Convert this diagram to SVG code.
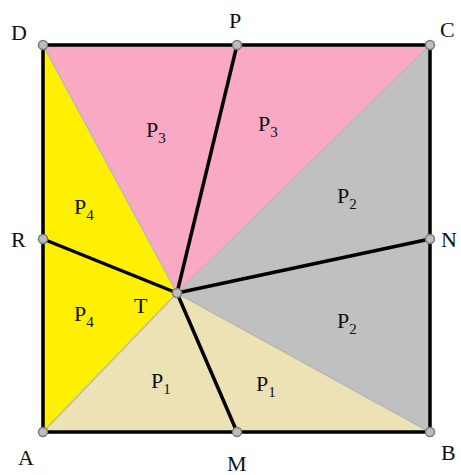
<svg xmlns="http://www.w3.org/2000/svg" width="461" height="475" viewBox="0 0 461 475">
<style>
.reg{stroke:none}
.div{stroke:#b8b8b8;stroke-width:1.5;fill:none}
.thick{stroke:#000;stroke-width:3.5;fill:none;stroke-linecap:round}
.pt{fill:#bdbdbd;stroke:#7a7a7a;stroke-width:1.5}
text{font-family:"Liberation Serif","DejaVu Serif",serif;font-size:22px;fill:#111}
.sub{font-size:15px}
</style>
<rect width="461" height="475" fill="#fff"/>
<g id="regions">
<polygon class="reg" fill="#f9a9c3" points="43,45 430,45 177,293"/>
<polygon class="reg" fill="#c0c0c0" points="430,45 430,432 177,293"/>
<polygon class="reg" fill="#ede2b4" points="43,432 430,432 177,293"/>
<polygon class="reg" fill="#ffef00" points="43,45 43,432 177,293"/>
</g>
<g id="connectors">
<line class="div" x1="43" y1="45" x2="177" y2="293"/>
<line class="div" x1="430" y1="45" x2="177" y2="293"/>
<line class="div" x1="43" y1="432" x2="177" y2="293"/>
<line class="div" x1="430" y1="432" x2="177" y2="293"/>
<rect x="43" y="45" width="387" height="387" class="thick" stroke-linecap="butt"/>
<line class="thick" x1="177" y1="293" x2="237" y2="45"/>
<line class="thick" x1="177" y1="293" x2="430" y2="239"/>
<line class="thick" x1="177" y1="293" x2="237" y2="432"/>
<line class="thick" x1="177" y1="293" x2="43" y2="239"/>
</g>
<g id="labels">
<text x="146" y="137">P<tspan class="sub" dy="6">3</tspan></text>
<text x="258" y="131">P<tspan class="sub" dy="6">3</tspan></text>
<text x="337" y="203">P<tspan class="sub" dy="6">2</tspan></text>
<text x="337" y="328">P<tspan class="sub" dy="6">2</tspan></text>
<text x="74" y="214">P<tspan class="sub" dy="6">4</tspan></text>
<text x="74" y="321">P<tspan class="sub" dy="6">4</tspan></text>
<text x="151" y="388">P<tspan class="sub" dy="6">1</tspan></text>
<text x="256" y="391">P<tspan class="sub" dy="6">1</tspan></text>
<text x="134" y="313">T</text>
</g>
<g id="D"><circle class="pt" cx="43" cy="45" r="4.5"/><text x="11" y="40">D</text></g>
<g id="C"><circle class="pt" cx="430" cy="45" r="4.5"/><text x="440" y="37">C</text></g>
<g id="A"><circle class="pt" cx="43" cy="432" r="4.5"/><text x="18" y="465">A</text></g>
<g id="B"><circle class="pt" cx="430" cy="432" r="4.5"/><text x="441" y="460">B</text></g>
<g id="P"><circle class="pt" cx="237" cy="45" r="4.5"/><text x="229" y="28">P</text></g>
<g id="M"><circle class="pt" cx="237" cy="432" r="4.5"/><text x="227" y="471">M</text></g>
<g id="R"><circle class="pt" cx="43" cy="239" r="4.5"/><text x="11" y="247">R</text></g>
<g id="N"><circle class="pt" cx="430" cy="239" r="4.5"/><text x="441" y="247">N</text></g>
<g id="T"><circle class="pt" cx="177" cy="293" r="4.5"/></g>
</svg>
